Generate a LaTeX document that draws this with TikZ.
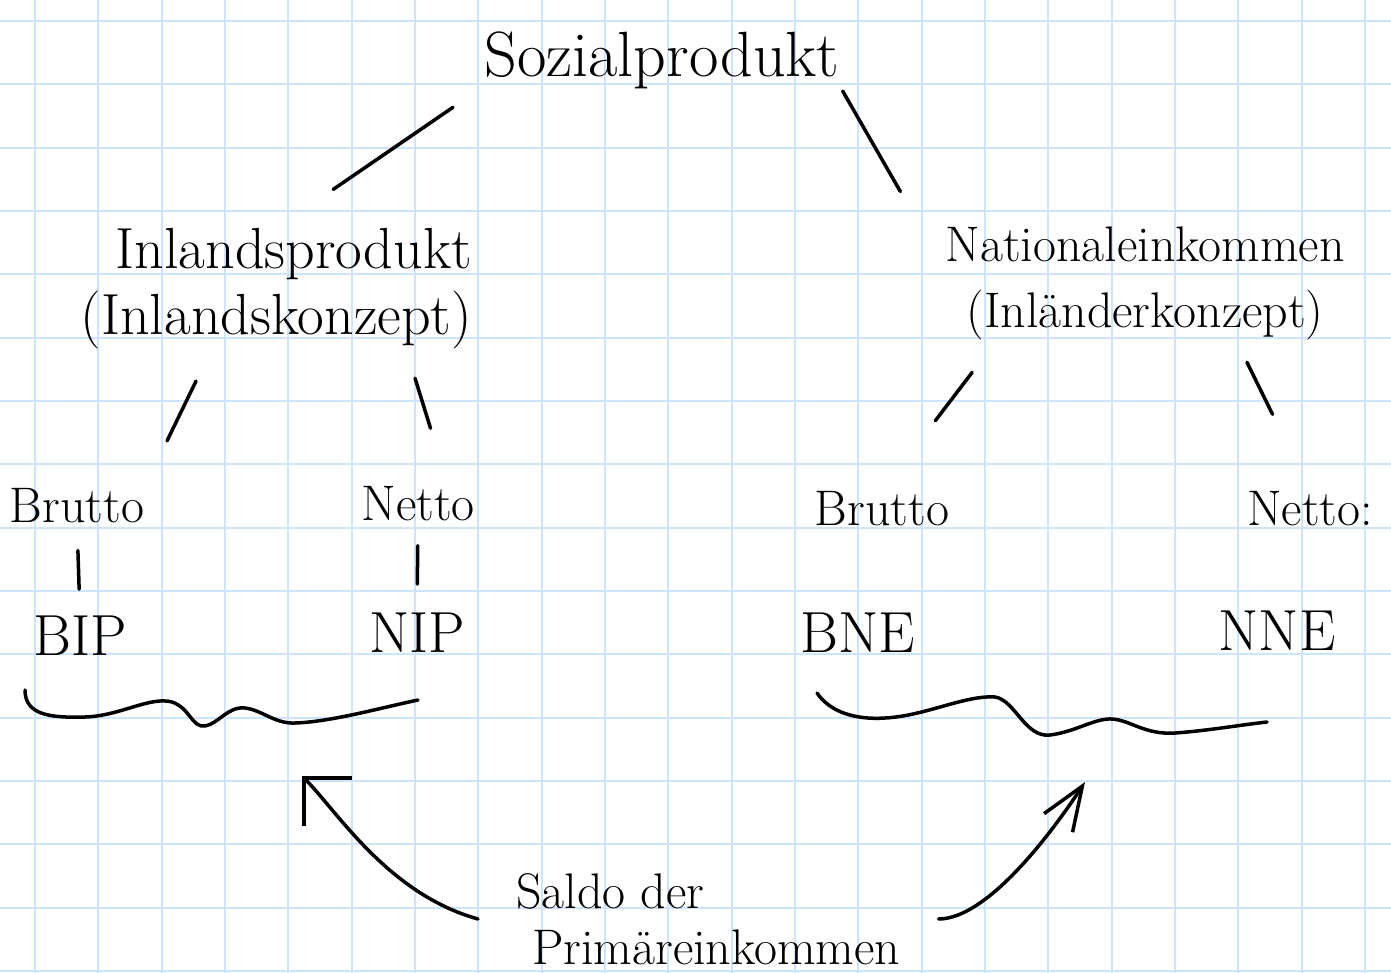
\documentclass[tikz,border=0pt]{standalone}
\usepackage{fontspec}
\usepackage{tikz}
\usetikzlibrary{%
	calc,%
	arrows.meta,%
}
\definecolor{cgrid}{RGB}{206, 228, 254}
\tikzset{
	gridline/.style={%
			draw=cgrid,%
			line width=2pt},%
	inkline/.style={%
			draw=black,%
			line width=3.5pt,%
			line cap=round,%
			line join=round},%
	handnode/.style={%
			font={\fontsize{50}{66}\selectfont},%
			inner sep=0pt},%
	widenode/.style={%
			font={\fontsize{58}{66}\selectfont},%
			inner sep=0pt},%
	bignode/.style={%
			font={\fontsize{64}{70}\selectfont},%
			inner sep=0pt},%
	saldonode/.style={%
			font={\fontsize{50}{56}\selectfont},%
			inner sep=0pt},%
	ipbarb/.tip={Straight Barb[length=34pt,width=68pt]},%
	nibarb/.tip={Straight Barb[length=44pt,width=34pt]},%
}

\begin{document}
\begin{tikzpicture}[x=1pt, y=-1pt]
	\fill[white] (0,0) rectangle (1391,973);
	\useasboundingbox (0,0) rectangle (1391,973);
	\foreach \i in {0,...,21}
		\draw[gridline] ({35+63.33*\i},0) -- ++(0,973);
	\foreach \j in {0,...,15}
		\draw[gridline] (0,{21+63.33*\j}) -- ++(1391,0);

	\node[bignode, anchor=base] (sp) at (662,77) {Sozialprodukt};
	\node[widenode, align=right, anchor=east] (ip) at (472,289) {Inlandsprodukt\\(Inlandskonzept)};
	\node[handnode, align=center] (ni) at (1145,283) {Nationaleinkommen\\(Inländerkonzept)};

	\node[handnode, anchor=base] (bl) at (77,522) {Brutto};
	\node[handnode, anchor=base] (nl) at (418,520) {Netto};
	\node[handnode, anchor=base] (br) at (882,525) {Brutto};
	\node[handnode, anchor=base] (nr) at (1310,525) {Netto:};

	\node[widenode, anchor=base] (bip) at (80,655) {BIP};
	\node[widenode, anchor=base] (nip) at (417,652) {NIP};
	\node[widenode, anchor=base] (bne) at (858,652) {BNE};
	\node[widenode, anchor=base] (nne) at (1277,650) {NNE};

	\node[saldonode, align=left, anchor=west, inner xsep=38pt] (saldo) at (478,919) {Saldo der\\\hspace*{16pt}Primäreinkommen};

	\draw[inkline, shorten <=38pt, shorten >=69pt] (sp.188) -- (ip.north);
	\draw[inkline, shorten <=6pt, shorten >=40pt] (sp.-8) -- ([xshift=-25pt]ni.north west);
	\draw[inkline, shorten <=35pt, shorten >=52pt] (ip.223) -- (bl.north east);
	\draw[inkline, shorten <=30pt, shorten >=60pt] (ip.-25) -- (nl.30);
	\draw[inkline, shorten <=41pt, shorten >=88pt] (ni.201) -- (br.north);
	\draw[inkline, shorten <=25pt, shorten >=85pt] (ni.-32) -- (nr.north);
	\draw[inkline, shorten <=28pt, shorten >=26pt] (bl.south) -- (bip.north);
	\draw[inkline, shorten <=25pt, shorten >=28pt] (nl.south) -- (nip.north);

	\draw[inkline] (25,690) .. controls (25,715) and (50,718) .. (85,717)
		.. controls (120,716) and (150,696) .. (172,702)
		.. controls (190,708) and (192,728) .. (205,726)
		.. controls (218,724) and (228,706) .. (245,708)
		.. controls (262,710) and (275,724) .. (295,723)
		.. controls (330,722) and (380,708) .. (418,700);
	\draw[inkline] (817,693) .. controls (830,712) and (855,720) .. (885,718)
		.. controls (925,716) and (965,695) .. (995,697)
		.. controls (1015,700) and (1025,738) .. (1050,735)
		.. controls (1075,732) and (1095,718) .. (1112,719)
		.. controls (1130,720) and (1145,735) .. (1175,733)
		.. controls (1205,731) and (1240,725) .. (1267,722);
	\coordinate (ipwave) at (302,776);
	\coordinate (niwave) at (1085,782);

	\draw[inkline, -{ipbarb}] (saldo.west) .. controls +(-90,-25) and +(35,35) .. (ipwave);
	\draw[inkline, -{nibarb}] (saldo.east) .. controls +(50,0) and +(-30,46) .. (niwave);
\end{tikzpicture}
\end{document}
